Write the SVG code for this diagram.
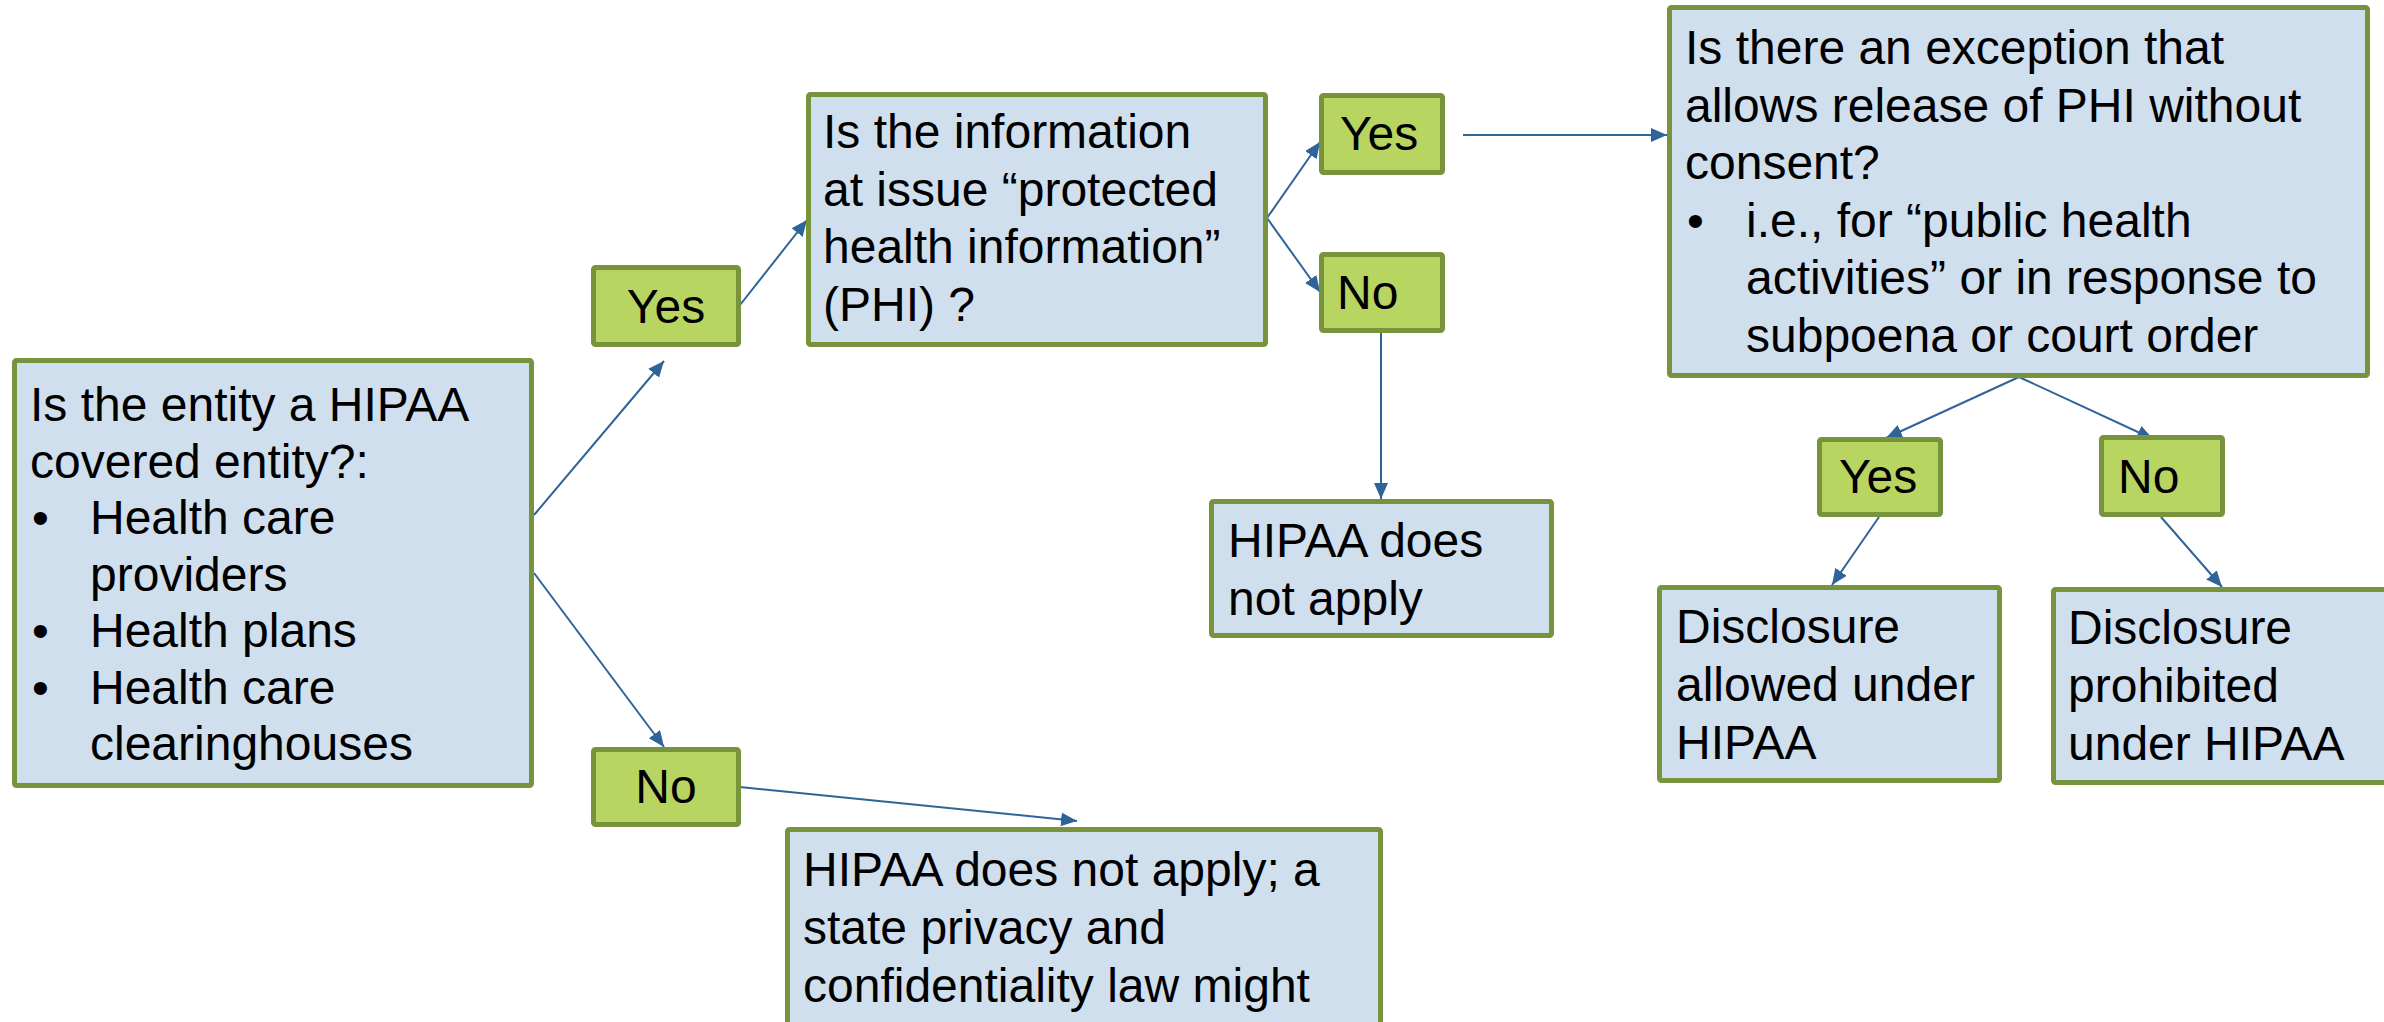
<svg xmlns="http://www.w3.org/2000/svg" width="2384" height="1022" viewBox="0 0 2384 1022">
<defs>
<style>
.q{fill:#D0DFEE;stroke:#77933C;stroke-width:5}
.a{fill:#B8D562;stroke:#77933C;stroke-width:5}
text{font-family:"Liberation Sans",Arial,sans-serif;font-size:48px;fill:#000}
.c{stroke:#2F6499;stroke-width:2;fill:none;marker-end:url(#ah)}
</style>
<marker id="ah" markerUnits="userSpaceOnUse" markerWidth="18" markerHeight="16" refX="16" refY="7" orient="auto">
<path d="M0,0 L16,7 L0,14 Z" fill="#2F6499"/>
</marker>
</defs>
<rect width="2384" height="1022" fill="#FFFFFF"/>
<g id="connectors">
<line class="c" x1="534" y1="515" x2="664" y2="361"/>
<line class="c" x1="534" y1="573" x2="664" y2="747"/>
<line class="c" x1="740" y1="305" x2="807" y2="220"/>
<line class="c" x1="1267" y1="218" x2="1320" y2="142"/>
<line class="c" x1="1267" y1="218" x2="1320" y2="292"/>
<line class="c" x1="1463" y1="135" x2="1667" y2="135"/>
<line class="c" x1="1381" y1="333" x2="1381" y2="499"/>
<line class="c" x1="2019" y1="377" x2="1886" y2="438"/>
<line class="c" x1="2019" y1="377" x2="2153" y2="439"/>
<line class="c" x1="1879" y1="517" x2="1832" y2="585"/>
<line class="c" x1="2161" y1="517" x2="2222" y2="587"/>
<line class="c" x1="740" y1="787" x2="1077" y2="821"/>
</g>
<g id="covered-entity">
<rect class="q" x="14.5" y="360.5" width="517" height="425" rx="2"/>
<text x="30" y="421">Is the entity a HIPAA</text>
<text x="30" y="477.5">covered entity?:</text>
<text x="32" y="534">•</text><text x="90" y="534">Health care</text>
<text x="90" y="590.5">providers</text>
<text x="32" y="647">•</text><text x="90" y="647">Health plans</text>
<text x="32" y="703.5">•</text><text x="90" y="703.5">Health care</text>
<text x="90" y="760">clearinghouses</text>
</g>
<g id="yes1">
<rect class="a" x="593.5" y="267.5" width="145" height="77" rx="2"/>
<text x="666" y="323" text-anchor="middle">Yes</text>
</g>
<g id="no1">
<rect class="a" x="593.5" y="749.5" width="145" height="75" rx="2"/>
<text x="666" y="803" text-anchor="middle">No</text>
</g>
<g id="phi">
<rect class="q" x="808.5" y="94.5" width="457" height="250" rx="2"/>
<text x="823" y="148">Is the information</text>
<text x="823" y="205.5">at issue “protected</text>
<text x="823" y="263">health information”</text>
<text x="823" y="320.5">(PHI) ?</text>
</g>
<g id="yes2">
<rect class="a" x="1321.5" y="95.5" width="121" height="77" rx="2"/>
<text x="1340" y="150">Yes</text>
</g>
<g id="no2">
<rect class="a" x="1321.5" y="254.5" width="121" height="76" rx="2"/>
<text x="1337" y="309">No</text>
</g>
<g id="not-apply">
<rect class="q" x="1211.5" y="501.5" width="340" height="134" rx="2"/>
<text x="1228" y="557">HIPAA does</text>
<text x="1228" y="615">not apply</text>
</g>
<g id="exception">
<rect class="q" x="1669.5" y="7.5" width="698" height="368" rx="2"/>
<text x="1685" y="64">Is there an exception that</text>
<text x="1685" y="121.5">allows release of PHI without</text>
<text x="1685" y="179">consent?</text>
<text x="1687" y="236.5">•</text><text x="1746" y="236.5">i.e., for “public health</text>
<text x="1746" y="294">activities” or in response to</text>
<text x="1746" y="351.5">subpoena or court order</text>
</g>
<g id="yes3">
<rect class="a" x="1819.5" y="439.5" width="121" height="75" rx="2"/>
<text x="1839" y="493">Yes</text>
</g>
<g id="no3">
<rect class="a" x="2101.5" y="437.5" width="121" height="77" rx="2"/>
<text x="2118" y="493">No</text>
</g>
<g id="allowed">
<rect class="q" x="1659.5" y="587.5" width="340" height="193" rx="2"/>
<text x="1676" y="643">Disclosure</text>
<text x="1676" y="701">allowed under</text>
<text x="1676" y="759">HIPAA</text>
</g>
<g id="prohibited">
<rect class="q" x="2053.5" y="589.5" width="340" height="193" rx="2"/>
<text x="2068" y="644">Disclosure</text>
<text x="2068" y="702">prohibited</text>
<text x="2068" y="760">under HIPAA</text>
</g>
<g id="state-law">
<rect class="q" x="787.5" y="829.5" width="593" height="250" rx="2"/>
<text x="803" y="886">HIPAA does not apply; a</text>
<text x="803" y="944">state privacy and</text>
<text x="803" y="1002">confidentiality law might</text>
</g>
</svg>
